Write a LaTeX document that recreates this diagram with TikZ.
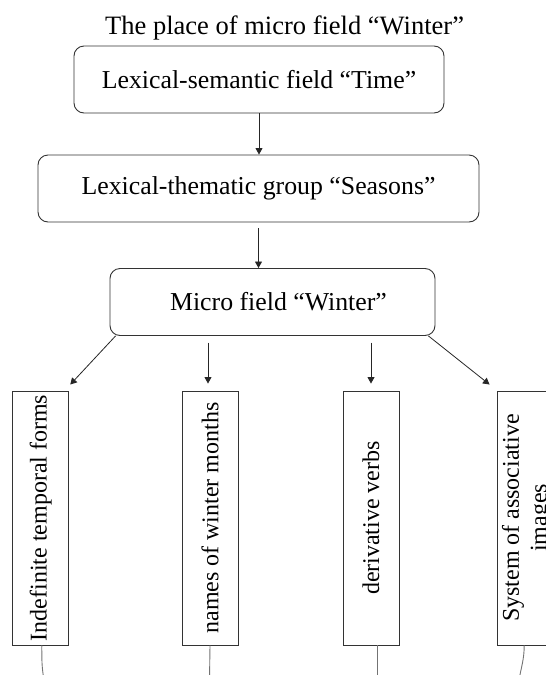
\documentclass[tikz,border=0pt]{standalone}
\usepackage{fontspec}
\setmainfont{Liberation Serif}
\usepackage{graphicx}
\usetikzlibrary{arrows.meta,calc}
\begin{document}
\begin{tikzpicture}[x=1pt, y=1pt,
    fieldbox/.style={rectangle, draw=black!80, line width=0.9pt, rounded corners=10pt,
      minimum height=67pt, font=\fontsize{25.8}{29.7}\selectfont},
    partbox/.style={rectangle, draw=black!80, line width=0.9pt, minimum width=56pt,
      minimum height=254pt, inner sep=0pt, font=\fontsize{24}{27.6}\selectfont},
    arr/.style={draw=black!85, line width=0.8pt, -{Triangle[length=6.5pt, width=7pt]}},
    tail/.style={draw=black!55, line width=0.9pt}]
    \useasboundingbox (0,0) rectangle (546,-675);
    % title and the three levels
    \node [anchor=base, font=\fontsize{26.5}{30}\selectfont] (title) at (284.6,-34.3) {The place of micro field “Winter”};
    \node [fieldbox, minimum width=370pt] (time) at (259,-79.5) {Lexical-semantic field “Time”\hspace{7pt}};
    \node [fieldbox, minimum width=441pt] (seasons) at (258.5,-188.5) {Lexical-thematic group “Seasons”};
    \node [fieldbox, minimum width=325pt] (winter) at (272.5,-302) {\hspace{12pt}Micro field “Winter”};
    % parts of the micro field
    \node [partbox] (forms) at (40.8,-518) {\rotatebox{90}{Indefinite temporal forms}};
    \node [partbox] (months) at (210,-518) {\rotatebox{90}{names of winter months}};
    \node [partbox] (verbs) at (371,-518) {\rotatebox{90}{derivative verbs}};
    \node [partbox, minimum width=59pt] (images) at (527.2,-518)
      {\rotatebox{90}{\begin{tabular}{@{}c@{}}System of associative\\images\end{tabular}}};
    % arrows
    \draw [arr] (time.south) -- (time.south |- seasons.north);
    \draw [arr] ([yshift=-6pt]seasons.south) -- (seasons.south |- winter.north);
    \draw [arr] ([xshift=6pt]winter.south west) -- ([shift={(1pt,6pt)}]forms.north east);
    \draw [arr] ($(months.north)+(-2,48)$) -- ($(months.north)+(-2,7)$);
    \draw [arr] ($(verbs.north)+(0,48)$) -- ($(verbs.north)+(0,7)$);
    \draw [arr] ([xshift=-7pt]winter.south east) -- ([shift={(-7.7pt,6pt)}]images.north west);
    % lines running off the page
    \coordinate (endforms) at (44,-680);
    \coordinate (endmonths) at (209.5,-680);
    \coordinate (endverbs) at (377,-680);
    \coordinate (endimages) at (519,-680);
    \draw [tail] ([xshift=1pt]forms.south) to[out=-90, in=100] (endforms);
    \draw [tail] (months.south) -- (endmonths);
    \draw [tail] ([xshift=6pt]verbs.south) -- (endverbs);
    \draw [tail] ([xshift=-3pt]images.south) to[out=-90, in=80] (endimages);
\end{tikzpicture}
\end{document}
